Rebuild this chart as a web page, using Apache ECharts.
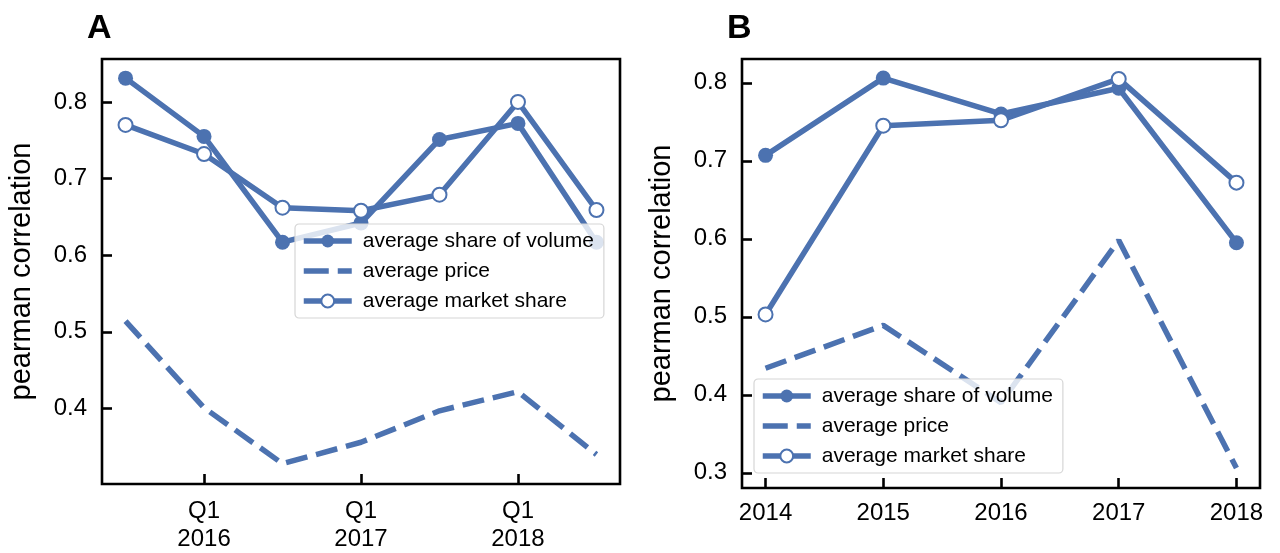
<!DOCTYPE html>
<html>
<head>
<meta charset="utf-8">
<script src="https://cdn.jsdelivr.net/npm/echarts@6/dist/echarts.min.js"></script>
<style>
  html, body { margin: 0; background: #fff; }
  #chart { width: 1280px; height: 553px; }
</style>
</head>
<body>
<div id="chart"></div>
<script>
// panel A: half-year points, Q3 2015 .. Q3 2018
const quarters = ['Q3 2015', 'Q1 2016', 'Q3 2016', 'Q1 2017', 'Q3 2017', 'Q1 2018', 'Q3 2018']
const quarterTicks = [1, 3, 5]
const quarterTickLabels = ['Q1\n2016', 'Q1\n2017', 'Q1\n2018']
const volumeA = [0.831, 0.755, 0.617, 0.642, 0.751, 0.772, 0.617]
const priceA = [0.514, 0.401, 0.328, 0.356, 0.397, 0.422, 0.340]
const marketA = [0.770, 0.732, 0.662, 0.658, 0.679, 0.800, 0.659]
const yTicksA = [0.4, 0.5, 0.6, 0.7, 0.8]

// panel B: yearly
const years = [2014, 2015, 2016, 2017, 2018]
const volumeB = [0.707, 0.806, 0.760, 0.793, 0.595]
const priceB = [0.434, 0.489, 0.390, 0.598, 0.306]
const marketB = [0.503, 0.745, 0.752, 0.805, 0.672]
const yTicksB = [0.3, 0.4, 0.5, 0.6, 0.7, 0.8]

const names = ['average share of volume', 'average price', 'average market share']
const blue = '#4c72b0'
const font = "'Liberation Sans', Arial, sans-serif"

const chart = echarts.init(document.getElementById('chart'))

const makeGrid = (left) => ({
  left: left, top: 59, width: 518, height: 429,
  show: true, borderColor: '#000', borderWidth: 2.6, backgroundColor: '#fff'
})

const tickStyle = { color: '#000', width: 2.6 }

const makeY = (idx, min, max, ticks) => ({
  type: 'value', gridIndex: idx, min: min, max: max,
  name: 'pearman correlation', nameLocation: 'middle', nameGap: 66,
  nameTextStyle: { fontSize: 29, color: '#000', fontFamily: font },
  axisLine: { show: false, onZero: false },
  axisTick: { show: true, inside: true, length: 10, customValues: ticks, lineStyle: tickStyle },
  axisLabel: { customValues: ticks, fontSize: 24, color: '#000', fontFamily: font, margin: 15,
    formatter: (v) => v.toFixed(1) },
  splitLine: { show: false }
})

const makeLegend = (left, top) => ({
  left: left, top: top, orient: 'vertical',
  data: [
    { name: names[0] },
    { name: names[1], lineStyle: { type: [25, 9] }, itemStyle: { opacity: 0 } },
    { name: names[2] }
  ],
  itemWidth: 48, itemHeight: 16, itemGap: 8,
  padding: [6, 10, 6, 6],
  lineStyle: { width: 5.5 },
  backgroundColor: 'rgba(255,255,255,0.8)',
  borderColor: '#d6d6d6', borderWidth: 1.2, borderRadius: 4,
  textStyle: { fontSize: 21, color: '#000', fontFamily: font, lineHeight: 22, padding: [0, 0, 0, 6] },
  selectedMode: false
})

const solid = (name, idx, data, hollow) => ({
  name: name, type: 'line', xAxisIndex: idx, yAxisIndex: idx, data: data,
  symbol: 'circle', symbolSize: hollow ? 14 : 15, showAllSymbol: true,
  lineStyle: { color: blue, width: 5.5 },
  itemStyle: hollow ? { color: '#fff', borderColor: blue, borderWidth: 2 } : { color: blue },
  emphasis: { disabled: true }
})

const dashed = (name, idx, data) => ({
  name: name, type: 'line', xAxisIndex: idx, yAxisIndex: idx, data: data,
  symbol: 'none',
  lineStyle: { color: blue, width: 5.5, type: [22, 9] },
  itemStyle: { color: blue },
  emphasis: { disabled: true }
})

const option = {
  backgroundColor: '#fff',
  animation: false,
  title: [
    { text: 'A', left: 82, top: 7, textStyle: { fontSize: 34, fontWeight: 'bold', color: '#000', fontFamily: font } },
    { text: 'B', left: 722, top: 7, textStyle: { fontSize: 34, fontWeight: 'bold', color: '#000', fontFamily: font } }
  ],
  grid: [makeGrid(102), makeGrid(742)],
  xAxis: [
    {
      type: 'value', gridIndex: 0, min: -0.3, max: 6.3,
      axisLine: { show: false, onZero: false },
      axisTick: { show: true, inside: true, length: 10, customValues: quarterTicks, lineStyle: tickStyle },
      axisLabel: { customValues: quarterTicks, fontSize: 24, color: '#000', fontFamily: font, margin: 13, lineHeight: 28,
        formatter: (v) => quarterTickLabels[quarterTicks.indexOf(v)] },
      splitLine: { show: false }
    },
    {
      type: 'value', gridIndex: 1, min: 2013.8, max: 2018.2,
      axisLine: { show: false, onZero: false },
      axisTick: { show: true, inside: true, length: 10, customValues: years, lineStyle: tickStyle },
      axisLabel: { customValues: years, fontSize: 24, color: '#000', fontFamily: font, margin: 13,
        formatter: (v) => String(v) },
      splitLine: { show: false }
    }
  ],
  yAxis: [makeY(0, 0.3015, 0.856, yTicksA), makeY(1, 0.2805, 0.8305, yTicksB)],
  legend: [makeLegend(295, 224), makeLegend(754, 379)],
  series: [
    solid(names[0], 0, volumeA.map((v, i) => [i, v]), false),
    dashed(names[1], 0, priceA.map((v, i) => [i, v])),
    solid(names[2], 0, marketA.map((v, i) => [i, v]), true),
    solid(names[0], 1, volumeB.map((v, i) => [years[i], v]), false),
    dashed(names[1], 1, priceB.map((v, i) => [years[i], v])),
    solid(names[2], 1, marketB.map((v, i) => [years[i], v]), true)
  ]
}
chart.setOption(option)
</script>
</body>
</html>
